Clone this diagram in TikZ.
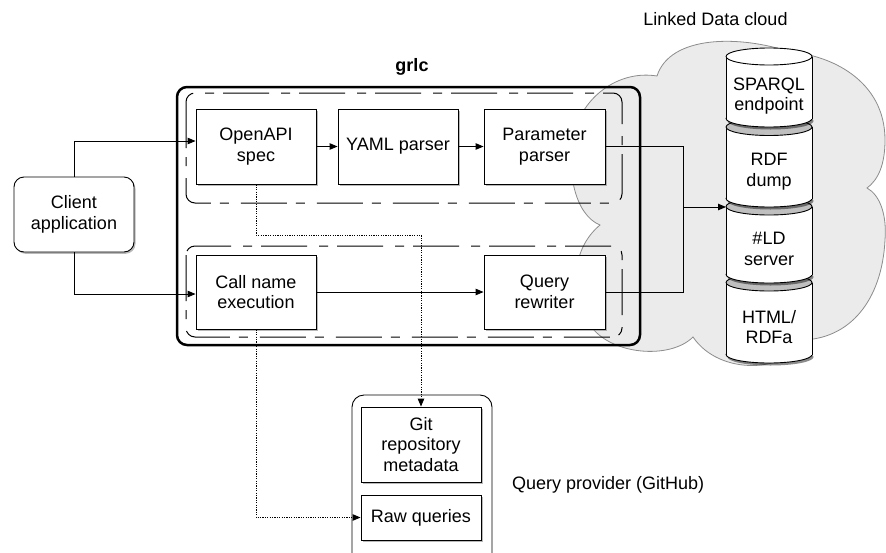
\documentclass[tikz,border=0pt]{standalone}
\usepackage{fontspec}
\setmainfont{Liberation Sans}
\usetikzlibrary{arrows.meta,shadows,calc}
\newcommand\ldcyl[3]{% yt, yb, top fill
  \fill[black,opacity=0.45] (770.5,#2+2.5) ellipse [x radius=43, y radius=8.5];
  \filldraw[fill=white,draw=black,line width=0.9pt] (769,#2) ellipse [x radius=43, y radius=8.5];
  \fill[white] (726,#1) rectangle (812,#2);
  \draw[line width=0.9pt] (726,#1) -- (726,#2) (812,#1) -- (812,#2);
  \filldraw[fill=#3,draw=black,line width=0.9pt] (769,#1) ellipse [x radius=43, y radius=8.5];
}
\begin{document}
\begin{tikzpicture}[x=1pt,y=-1pt,
  lbl/.style={font=\fontsize{18}{20.8}\selectfont, align=center, inner sep=0pt},
  shad/.style={drop shadow={shadow xshift=1.5pt, shadow yshift=-1.8pt, opacity=0.5, fill=black!55}},
  box/.style={draw=black, line width=0.9pt, fill=white, minimum width=120pt, minimum height=75pt, lbl, shad},
  conn/.style={line width=0.9pt},
  arr/.style={conn, -{Triangle[length=8pt,width=6.5pt]}},
  dotarr/.style={line width=0.9pt, dash pattern=on 1.2pt off 1.2pt, -{Triangle[length=8pt,width=6.5pt]}},
  dashbox/.style={draw=black, line width=1pt, rounded corners=9pt, dash pattern=on 46pt off 9pt on 9pt off 12pt},
]
\useasboundingbox (0,0) rectangle (886,552);
\clip (0,0) rectangle (886,552);

% cloud
\filldraw[fill=black!8, draw=black!45, line width=0.8pt]
  (600,225) .. controls (575,215) and (565,170) .. (575,130)
  .. controls (585,95) and (620,70) .. (657,76)
  .. controls (670,35) and (740,35) .. (790,52)
  .. controls (830,55) and (885,80) .. (885,140)
  .. controls (885,165) and (878,180) .. (867,188)
  .. controls (880,195) and (887,215) .. (885,240)
  .. controls (882,300) and (850,340) .. (800,340)
  .. controls (790,372) and (720,377) .. (693,337)
  .. controls (670,360) and (610,355) .. (590,325)
  .. controls (570,295) and (570,250) .. (600,225) -- cycle;
\node[lbl] (ldlabel) at (715.5,19) {Linked Data cloud};

% grlc containers
\node[lbl, font=\fontsize{18}{20.8}\selectfont\bfseries] (grlclabel) at (412,67) {grlc};
\draw[line width=2.5pt, rounded corners=10pt] (177,87) rectangle (640,345);
\draw[dashbox] (186,93) rectangle (622,203);
\draw[dashbox] (186,246) rectangle (622,337);

% boxes
\node[box] (openapi) at (256,146.5) {OpenAPI\\spec};
\node[box] (yaml) at (398,146.5) {YAML parser};
\node[box, minimum width=121pt] (param) at (544.5,146.5) {Parameter\\parser};
\node[box, minimum height=74pt] (callname) at (256,292) {Call name\\execution};
\node[box, minimum width=121pt, minimum height=74pt] (rewriter) at (544.5,292) {Query\\rewriter};
\node[box, rounded corners=10pt] (client) at (74,214.5) {Client\\application};

% query provider
\draw[line width=0.9pt, rounded corners=12pt] (352,395) rectangle (492,575);
\node[box] (git) at (421,444.5) {Git\\repository\\metadata};
\node[box, minimum height=45pt] (raw) at (421,517.5) {Raw queries};
\node[lbl, anchor=west] (qplabel) at (512,485) {Query provider (GitHub)};

% cylinders
\ldcyl{282.5}{354.5}{black!25}
\ldcyl{206.5}{274.5}{black!25}
\ldcyl{127}{198.5}{black!25}
\ldcyl{56.5}{118.5}{white}
\node[lbl] (sparql) at (769,96) {SPARQL\\endpoint};
\node[lbl] (rdf) at (769,171.5) {RDF\\dump};
\node[lbl] (hld) at (769,249) {\#LD\\server};
\node[lbl] (html) at (769,327) {HTML/\\RDFa};

% connectors
\coordinate (junc) at (683,207);
\coordinate (ldin) at (726,207);
\coordinate (dotA) at (0,235);
\draw[arr] (client.north) |- ($(openapi.west)+(0,-5.5)$);
\draw[arr] (client.south) |- ($(callname.west)+(0,2)$);
\draw[arr] (openapi) -- (yaml);
\draw[arr] (yaml) -- (param);
\draw[arr] (callname) -- (rewriter);
\draw[conn] (param.east) -| (junc);
\draw[conn] (rewriter.east) -| (junc);
\draw[arr] (junc) -- (ldin);
\draw[dotarr] (openapi.south) -- (openapi.south |- dotA) -| (git.north);
\draw[dotarr] (callname.south) |- (raw.west);
\end{tikzpicture}
\end{document}
